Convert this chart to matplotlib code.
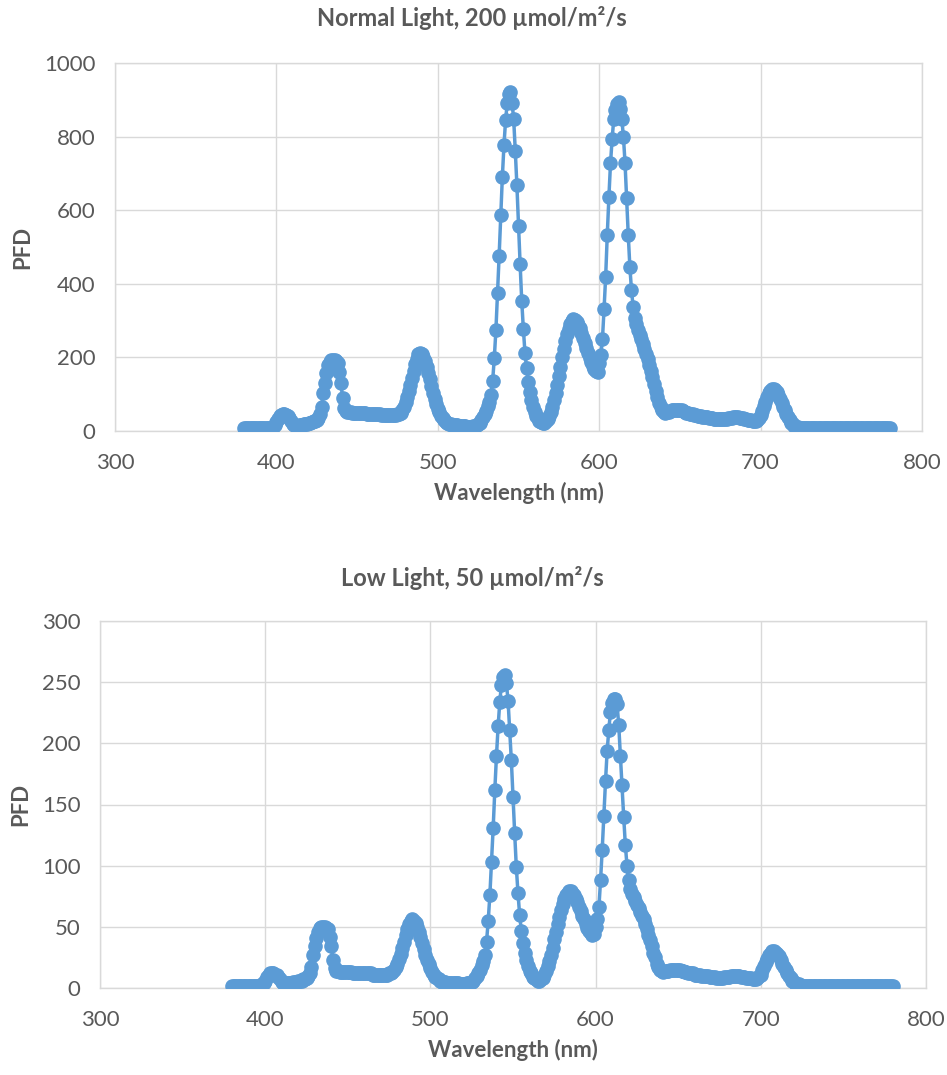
import numpy as np
import matplotlib.pyplot as plt

plt.rcParams['font.family'] = ['Lato', 'DejaVu Sans']

# wavelength grid, 1 nm steps
wavelength = np.arange(380, 781)

# photon flux density, normal light (200 umol/m2/s)
pfd_normal = [
    7, 7, 7, 7, 7, 7, 7, 7, 7, 7,
    7, 7, 7, 7, 7, 7, 8, 9, 11, 16,
    24, 33, 40, 44, 46, 45, 43, 40, 34, 26,
    19, 15, 14, 14, 15, 16, 17, 18, 19, 20,
    21, 22, 24, 26, 28, 31, 36, 45, 66, 102,
    130, 157, 179, 188, 192, 193, 192, 190, 185, 161,
    130, 89, 62, 53, 52, 51, 51, 50, 50, 50,
    49, 49, 49, 48, 48, 48, 47, 47, 47, 46,
    46, 46, 45, 45, 45, 44, 44, 44, 43, 43,
    43, 43, 43, 43, 44, 45, 47, 50, 56, 66,
    78, 92, 108, 126, 145, 164, 182, 197, 208, 212,
    210, 202, 190, 175, 158, 140, 122, 104, 88, 74,
    61, 51, 42, 35, 29, 25, 22, 20, 18, 17,
    16, 15, 15, 14, 14, 13, 13, 13, 12, 12,
    12, 12, 13, 14, 16, 19, 23, 29, 37, 45,
    55, 67, 80, 98, 137, 198, 274, 375, 476, 587,
    691, 777, 845, 890, 915, 922, 892, 848, 762, 668,
    558, 454, 354, 278, 213, 170, 134, 107, 84, 66,
    52, 42, 34, 28, 25, 23, 23, 26, 32, 40,
    52, 66, 83, 103, 126, 150, 175, 200, 224, 245,
    263, 278, 290, 299, 303, 302, 297, 289, 279, 267,
    254, 240, 226, 212, 199, 187, 177, 169, 163, 160,
    184, 206, 249, 331, 419, 533, 635, 727, 793, 847,
    872, 888, 893, 875, 848, 800, 729, 632, 533, 446,
    383, 338, 306, 290, 275, 262, 250, 237, 224, 210,
    195, 180, 163, 146, 128, 110, 93, 77, 64, 56,
    51, 50, 51, 52, 54, 56, 57, 58, 58, 58,
    57, 56, 54, 52, 50, 48, 47, 46, 45, 44,
    43, 42, 41, 40, 39, 39, 38, 37, 36, 35,
    34, 33, 33, 32, 32, 32, 32, 32, 33, 33,
    34, 35, 36, 37, 37, 37, 37, 36, 35, 34,
    33, 32, 31, 30, 29, 28, 28, 28, 31, 36,
    43, 55, 68, 80, 92, 102, 109, 113, 114, 111,
    105, 97, 87, 77, 66, 56, 46, 37, 29, 23,
    18, 14, 12, 10, 9, 9, 9, 9, 9, 9,
    9, 9, 9, 9, 9, 9, 9, 9, 9, 9,
    9, 9, 9, 9, 9, 9, 9, 9, 9, 9,
    8, 8, 8, 8, 8, 8, 8, 8, 8, 8,
    8, 8, 8, 8, 8, 7, 7, 7, 7, 7,
    7, 7, 7, 7, 7, 7, 7, 7, 7, 7,
    7,
]

# photon flux density, low light (50 umol/m2/s)
pfd_low = [
    2, 2, 2, 2, 2, 2, 2, 2, 2, 2,
    2, 2, 2, 2, 2, 2, 2, 2, 3, 4,
    6, 9, 11, 12, 12, 12, 11, 11, 9, 7,
    5, 4, 4, 4, 4, 4, 4, 5, 5, 5,
    6, 6, 6, 7, 7, 8, 10, 12, 17, 27,
    34, 41, 46, 49, 50, 50, 50, 49, 48, 42,
    34, 23, 16, 14, 14, 13, 13, 13, 13, 13,
    13, 13, 13, 12, 12, 12, 12, 12, 12, 12,
    12, 12, 12, 12, 12, 11, 11, 11, 11, 11,
    11, 11, 11, 11, 11, 12, 12, 13, 15, 17,
    20, 24, 28, 33, 38, 43, 48, 52, 55, 56,
    55, 53, 50, 46, 42, 37, 32, 27, 23, 20,
    16, 13, 11, 9, 8, 7, 6, 5, 5, 5,
    4, 4, 4, 4, 4, 4, 4, 4, 3, 3,
    3, 3, 4, 4, 4, 5, 6, 8, 10, 12,
    15, 19, 22, 27, 38, 55, 76, 103, 131, 162,
    190, 214, 234, 248, 254, 256, 249, 235, 211, 186,
    156, 127, 99, 78, 60, 47, 37, 29, 23, 18,
    14, 12, 9, 8, 7, 6, 6, 7, 8, 11,
    14, 18, 22, 27, 33, 40, 46, 52, 58, 64,
    69, 73, 76, 78, 79, 79, 78, 76, 73, 70,
    66, 63, 59, 56, 52, 49, 47, 45, 43, 44,
    50, 56, 66, 88, 113, 141, 169, 194, 211, 226,
    233, 236, 236, 232, 215, 190, 166, 140, 117, 100,
    88, 81, 77, 74, 71, 68, 65, 62, 59, 56,
    52, 48, 43, 39, 34, 29, 25, 20, 17, 15,
    14, 13, 14, 14, 14, 15, 15, 15, 15, 15,
    15, 15, 14, 14, 13, 13, 12, 12, 12, 12,
    11, 11, 11, 11, 10, 10, 10, 10, 10, 9,
    9, 9, 9, 8, 8, 8, 8, 8, 9, 9,
    9, 9, 10, 10, 10, 10, 10, 10, 9, 9,
    9, 8, 8, 8, 8, 7, 7, 7, 8, 10,
    11, 15, 18, 21, 24, 27, 29, 30, 30, 29,
    28, 26, 23, 20, 17, 15, 12, 10, 8, 6,
    5, 4, 3, 3, 2, 2, 2, 2, 2, 2,
    2, 2, 2, 2, 2, 2, 2, 2, 2, 2,
    2, 2, 2, 2, 2, 2, 2, 2, 2, 2,
    2, 2, 2, 2, 2, 2, 2, 2, 2, 2,
    2, 2, 2, 2, 2, 2, 2, 2, 2, 2,
    2, 2, 2, 2, 2, 2, 2, 2, 2, 2,
    2,
]

x_ticks = [300, 400, 500, 600, 700, 800]

W, H = 947, 1075
BLUE = '#5B9BD5'
TXT = '#595959'
GRID = '#D9D9D9'

fig = plt.figure(figsize=(W / 100, H / 100), dpi=100)


def px_axes(left, top, right, bottom):
    return fig.add_axes([left / W, 1 - bottom / H, (right - left) / W, (bottom - top) / H])


def spectrum(ax, y, ymax, ystep, title, title_y):
    ax.plot(wavelength, y, color=BLUE, lw=2.5, marker='o', ms=9.5, mec=BLUE, mfc=BLUE, zorder=3)
    ax.set_xlim(300, 800)
    ax.set_ylim(0, ymax)
    ax.set_xticks(x_ticks)
    ax.set_yticks(np.arange(0, ymax + 1, ystep))
    ax.grid(True, color=GRID, lw=1)
    ax.set_axisbelow(True)
    for s in ax.spines.values():
        s.set_color(GRID)
        s.set_linewidth(1)
    ax.tick_params(length=0, labelsize=16, labelcolor=TXT)
    ax.tick_params(axis='x', pad=16)
    ax.tick_params(axis='y', pad=14)
    fig.text(472 / W, 1 - title_y / H, title, ha='center', va='center',
             fontsize=17, fontweight='bold', color=TXT)
    ax.set_xlabel('Wavelength (nm)', fontsize=16, fontweight='bold', color=TXT, labelpad=6)
    ax.set_ylabel('PFD', fontsize=16, fontweight='bold', color=TXT, labelpad=8)


ax1 = px_axes(115, 63, 922, 431)
spectrum(ax1, pfd_normal, 1000, 200, 'Normal Light, 200 µmol/m²/s', 18)

ax2 = px_axes(100, 621, 926, 988)
spectrum(ax2, pfd_low, 300, 50, 'Low Light, 50 µmol/m²/s', 578)

fig.savefig('out.png', dpi=100)
